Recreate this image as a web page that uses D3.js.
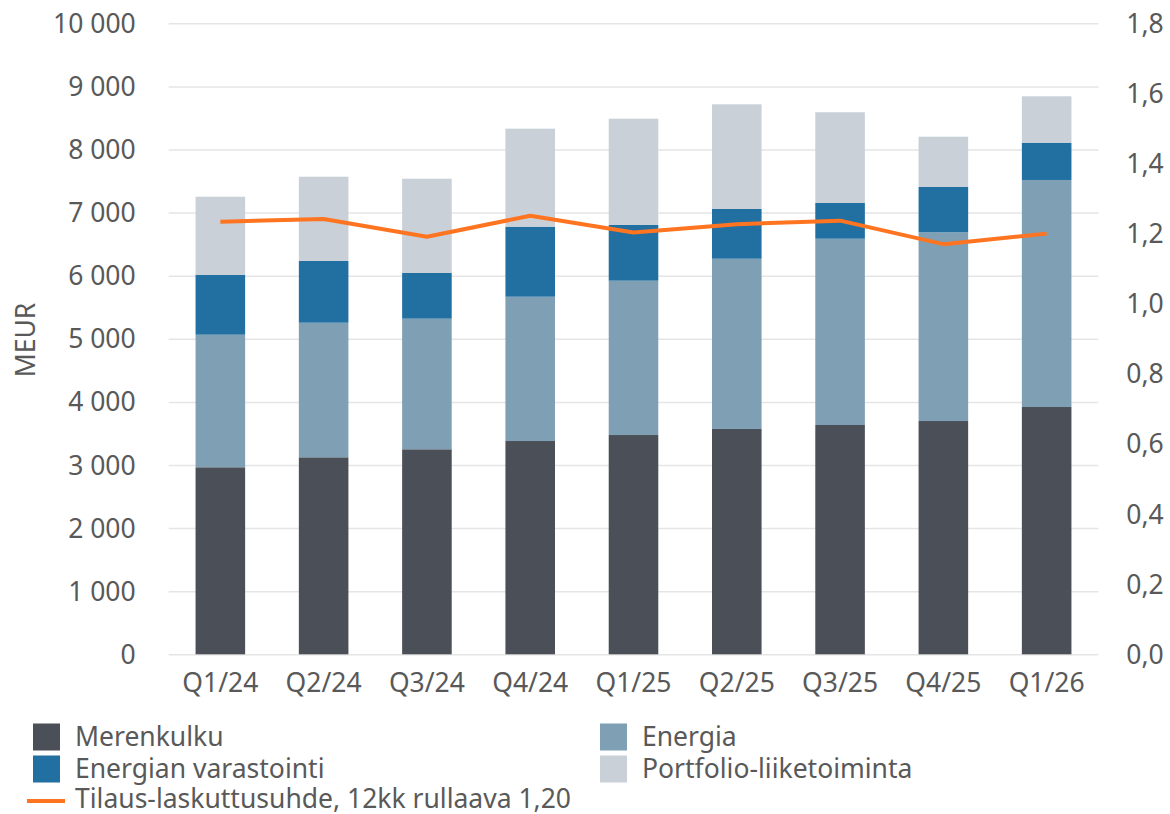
<!DOCTYPE html>
<html lang="fi">
<head>
    <meta charset="utf-8">
    <title>Tilauskanta</title>
    <script src="https://cdnjs.cloudflare.com/ajax/libs/d3/7.8.5/d3.min.js"></script>
    <style>
        body { margin: 0; background: #fff; }
        svg text { font-family: "Noto Sans", "Open Sans", sans-serif; fill: #595959; }
    </style>
</head>
<body>
    <svg id="chart"></svg>
    <script>
        const quarters = ['Q1/24', 'Q2/24', 'Q3/24', 'Q4/24', 'Q1/25', 'Q2/25', 'Q3/25', 'Q4/25', 'Q1/26'];
        const merenkulku = [2964, 3122, 3249, 3380, 3475, 3571, 3634, 3697, 3919];
        const energia = [2101, 2133, 2070, 2287, 2446, 2698, 2952, 2991, 3598];
        const varastointi = [946, 978, 724, 1110, 883, 788, 566, 718, 591];
        const portfolio = [1241, 1336, 1494, 1553, 1684, 1659, 1438, 797, 735];
        const ratio = [1.234, 1.242, 1.191, 1.251, 1.203, 1.227, 1.237, 1.170, 1.200];

        const leftTicks = [0, 1000, 2000, 3000, 4000, 5000, 6000, 7000, 8000, 9000, 10000];
        const rightTicks = [0, 0.2, 0.4, 0.6, 0.8, 1.0, 1.2, 1.4, 1.6, 1.8];

        const seriesNames = ['Merenkulku', 'Energia', 'Energian varastointi', 'Portfolio-liiketoiminta'];
        const seriesColors = ['#4b4f57', '#7fa0b4', '#226fa2', '#c9d0d7'];
        const lineName = 'Tilaus-laskuttusuhde, 12kk rullaava 1,20';
        const lineColor = '#ff7420';

        const width = 1170, height = 814;
        const plot = { left: 168.7, right: 1098.3, top: 23.3, bottom: 654.3 };
        const fontSize = 26.5;

        const svg = d3.select('#chart')
            .attr('width', width)
            .attr('height', height);

        const x = d3.scaleBand()
            .domain(quarters)
            .range([plot.left, plot.right])
            .paddingInner(0.52)
            .paddingOuter(0.26);

        const y = d3.scaleLinear()
            .domain([0, 10000])
            .range([plot.bottom, plot.top]);

        const y2 = d3.scaleLinear()
            .domain([0, 1.8])
            .range([plot.bottom, plot.top]);

        const fmtLeft = v => d3.format(',')(v).replace(/,/g, '\u00a0');
        const fmtRight = v => d3.format('.1f')(v).replace('.', ',');

        // gridlines + left axis
        const leftAxis = svg.append('g')
            .attr('transform', `translate(${plot.left},0)`)
            .call(d3.axisLeft(y)
                .tickValues(leftTicks)
                .tickSize(-(plot.right - plot.left))
                .tickPadding(33)
                .tickFormat(fmtLeft));
        leftAxis.select('.domain').remove();
        leftAxis.selectAll('line').attr('stroke', '#e5e5e5').attr('stroke-width', 1.5);
        leftAxis.selectAll('text').attr('font-size', fontSize).attr('dy', '0.34em');

        const rightAxis = svg.append('g')
            .attr('transform', `translate(${plot.right},0)`)
            .call(d3.axisRight(y2)
                .tickValues(rightTicks)
                .tickSize(0)
                .tickPadding(28)
                .tickFormat(fmtRight));
        rightAxis.select('.domain').remove();
        rightAxis.selectAll('text').attr('font-size', fontSize).attr('dy', '0.34em');

        const bottomAxis = svg.append('g')
            .attr('transform', `translate(0,${plot.bottom})`)
            .call(d3.axisBottom(x).tickSize(0).tickPadding(19));
        bottomAxis.select('.domain').remove();
        bottomAxis.selectAll('text').attr('font-size', fontSize);

        svg.append('text')
            .attr('transform', `translate(35,340) rotate(-90)`)
            .attr('text-anchor', 'middle')
            .attr('font-size', fontSize)
            .text('MEUR');

        // stacked bars
        const rows = quarters.map((q, i) => ({
            q,
            'Merenkulku': merenkulku[i],
            'Energia': energia[i],
            'Energian varastointi': varastointi[i],
            'Portfolio-liiketoiminta': portfolio[i]
        }));
        const stacked = d3.stack().keys(seriesNames)(rows);

        svg.append('g')
            .selectAll('g')
            .data(stacked)
            .join('g')
            .attr('fill', (d, i) => seriesColors[i])
            .selectAll('rect')
            .data(d => d)
            .join('rect')
            .attr('x', d => x(d.data.q))
            .attr('width', x.bandwidth())
            .attr('y', d => y(d[1]))
            .attr('height', d => y(d[0]) - y(d[1]));

        // ratio line
        const line = d3.line()
            .x((d, i) => x(quarters[i]) + x.bandwidth() / 2)
            .y(d => y2(d));

        svg.append('path')
            .datum(ratio)
            .attr('fill', 'none')
            .attr('stroke', lineColor)
            .attr('stroke-width', 4)
            .attr('stroke-linejoin', 'round')
            .attr('d', line);

        // legend
        const legend = svg.append('g').attr('font-size', fontSize);
        const legendItems = [
            { name: seriesNames[0], color: seriesColors[0], x: 33, y: 737 },
            { name: seriesNames[1], color: seriesColors[1], x: 600, y: 737 },
            { name: seriesNames[2], color: seriesColors[2], x: 33, y: 769 },
            { name: seriesNames[3], color: seriesColors[3], x: 600, y: 769 }
        ];
        legendItems.forEach(it => {
            legend.append('rect')
                .attr('x', it.x)
                .attr('y', it.y - 13.5)
                .attr('width', 27)
                .attr('height', 27)
                .attr('fill', it.color);
            legend.append('text')
                .attr('x', it.x + 42)
                .attr('y', it.y)
                .attr('dy', '0.35em')
                .text(it.name);
        });
        legend.append('line')
            .attr('x1', 27).attr('x2', 65)
            .attr('y1', 801).attr('y2', 801)
            .attr('stroke', lineColor)
            .attr('stroke-width', 4);
        legend.append('text')
            .attr('x', 75)
            .attr('y', 799)
            .attr('dy', '0.35em')
            .text(lineName);
    </script>
</body>
</html>
